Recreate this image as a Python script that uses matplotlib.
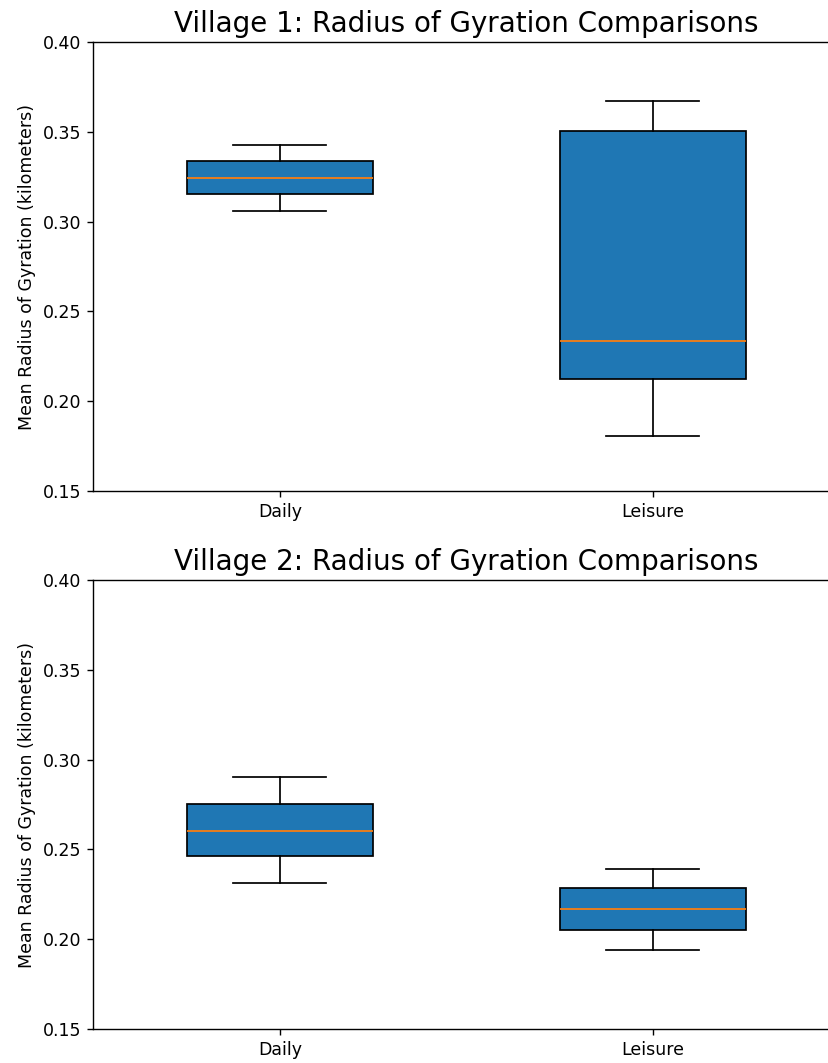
import matplotlib
matplotlib.use("Agg")
import matplotlib.pyplot as plt

categories = ["Daily", "Leisure"]
titles = ["Village 1: Radius of Gyration Comparisons", "Village 2: Radius of Gyration Comparisons"]

# [whislo, q1, med, q3, whishi] per category
v1_daily = [0.3060, 0.3151, 0.3242, 0.3335, 0.3428]
v1_leisure = [0.1807, 0.2125, 0.2333, 0.3503, 0.3671]
v2_daily = [0.2311, 0.2462, 0.2602, 0.2753, 0.2904]
v2_leisure = [0.1942, 0.2054, 0.2166, 0.2283, 0.2389]

villages = [[v1_daily, v1_leisure], [v2_daily, v2_leisure]]

DPI = 125
W, H = 828, 1063
fig = plt.figure(figsize=(W / DPI, H / DPI), dpi=DPI)
left = 93.3 / W
width = 746 / W
tops = [42, 580]
hgt = 449

for i, (title, data) in enumerate(zip(titles, villages)):
    top = tops[i]
    ax = fig.add_axes([left, 1 - (top + hgt) / H, width, hgt / H])
    stats = []
    for cat, s in zip(categories, data):
        stats.append(dict(label=cat, whislo=s[0], q1=s[1], med=s[2], q3=s[3], whishi=s[4], fliers=[]))
    ax.bxp(stats, positions=[1, 2], widths=0.5, patch_artist=True,
           boxprops=dict(facecolor="#1f77b4", edgecolor="black"),
           medianprops=dict(color="#ff7f0e"))
    ax.set_xlim(0.5, 2.5)
    ax.set_ylim(0.15, 0.40)
    ax.set_yticks([0.15, 0.20, 0.25, 0.30, 0.35, 0.40])
    ax.set_title(title, fontsize=16)
    ax.set_ylabel("Mean Radius of Gyration (kilometers)")

fig.savefig("out.png", dpi=DPI)
